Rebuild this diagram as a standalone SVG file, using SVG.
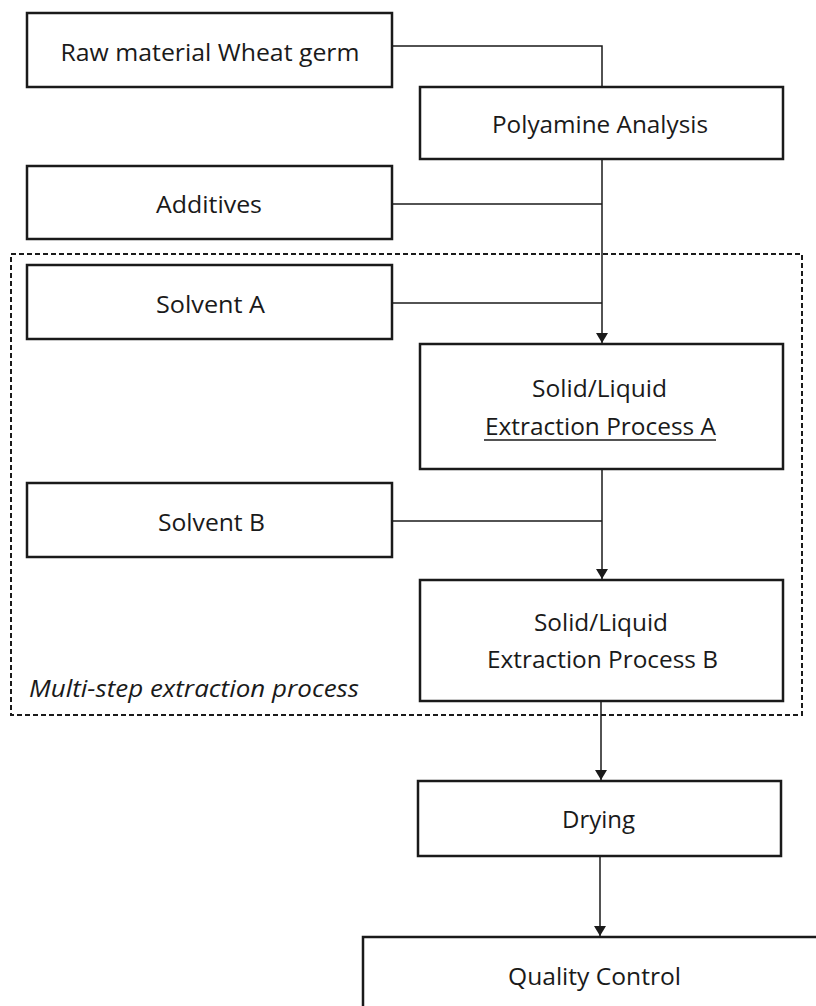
<svg xmlns="http://www.w3.org/2000/svg" width="816" height="1006" viewBox="0 0 816 1006">
<style>
.box{fill:#fff;stroke:#1a1a1a;stroke-width:2.5}
.t{font-family:"Open Sans","Liberation Sans",sans-serif;font-size:23px;fill:#1a1a1a;text-anchor:middle}
.c{fill:none;stroke:#1a1a1a;stroke-width:1.5}
.dash{fill:none;stroke:#1a1a1a;stroke-width:2;stroke-dasharray:5 3}
</style>
<defs>
<marker id="arr" viewBox="0 0 10 14" refX="10" refY="7" markerWidth="10" markerHeight="14" markerUnits="userSpaceOnUse" orient="auto">
<path d="M0,1 L10,7 L0,13 Z" fill="#1a1a1a"/>
</marker>
</defs>
<rect id="group-multistep" class="dash" x="11" y="254" width="791" height="461"/>
<g id="connectors">
<path class="c" d="M392,46 H602 V87"/>
<path class="c" d="M602,159 V343" marker-end="url(#arr)"/>
<path class="c" d="M392,204 H602"/>
<path class="c" d="M392,303 H602"/>
<path class="c" d="M602,469 V579" marker-end="url(#arr)"/>
<path class="c" d="M392,521 H602"/>
<path class="c" d="M601,701 V780" marker-end="url(#arr)"/>
<path class="c" d="M600,856 V936" marker-end="url(#arr)"/>
</g>
<g id="raw">
<rect class="box" x="27" y="13" width="365" height="74"/>
<text class="t" x="210" y="61" textLength="299" lengthAdjust="spacingAndGlyphs">Raw material Wheat germ</text>
</g>
<g id="polyamine">
<rect class="box" x="420" y="87" width="363" height="72"/>
<text class="t" x="600" y="133" textLength="216" lengthAdjust="spacingAndGlyphs">Polyamine Analysis</text>
</g>
<g id="additives">
<rect class="box" x="27" y="166" width="365" height="73"/>
<text class="t" x="209" y="213" textLength="106" lengthAdjust="spacingAndGlyphs">Additives</text>
</g>
<g id="solventA">
<rect class="box" x="27" y="265" width="365" height="74"/>
<text class="t" x="210.5" y="313" textLength="109" lengthAdjust="spacingAndGlyphs">Solvent A</text>
</g>
<g id="extractionA">
<rect class="box" x="420" y="344" width="363" height="125"/>
<text class="t" x="599.5" y="397" textLength="135" lengthAdjust="spacingAndGlyphs">Solid/Liquid</text>
<text class="t" x="600.5" y="435" textLength="231" lengthAdjust="spacingAndGlyphs">Extraction Process A</text>
<line x1="484" y1="440" x2="716" y2="440" stroke="#1a1a1a" stroke-width="1.5"/>
</g>
<g id="solventB">
<rect class="box" x="27" y="483" width="365" height="74"/>
<text class="t" x="211.5" y="531" textLength="107" lengthAdjust="spacingAndGlyphs">Solvent B</text>
</g>
<g id="extractionB">
<rect class="box" x="420" y="580" width="363" height="121"/>
<text class="t" x="601" y="631" textLength="134" lengthAdjust="spacingAndGlyphs">Solid/Liquid</text>
<text class="t" x="602.5" y="668" textLength="231" lengthAdjust="spacingAndGlyphs">Extraction Process B</text>
</g>
<text class="t" x="29" y="697" style="text-anchor:start;font-style:italic" textLength="330" lengthAdjust="spacingAndGlyphs">Multi-step extraction process</text>
<g id="drying">
<rect class="box" x="418" y="781" width="363" height="75"/>
<text class="t" x="598.5" y="828" textLength="73" lengthAdjust="spacingAndGlyphs">Drying</text>
</g>
<g id="quality">
<rect class="box" x="363" y="937" width="480" height="90"/>
<text class="t" x="594.5" y="985" textLength="173" lengthAdjust="spacingAndGlyphs">Quality Control</text>
</g>
</svg>
